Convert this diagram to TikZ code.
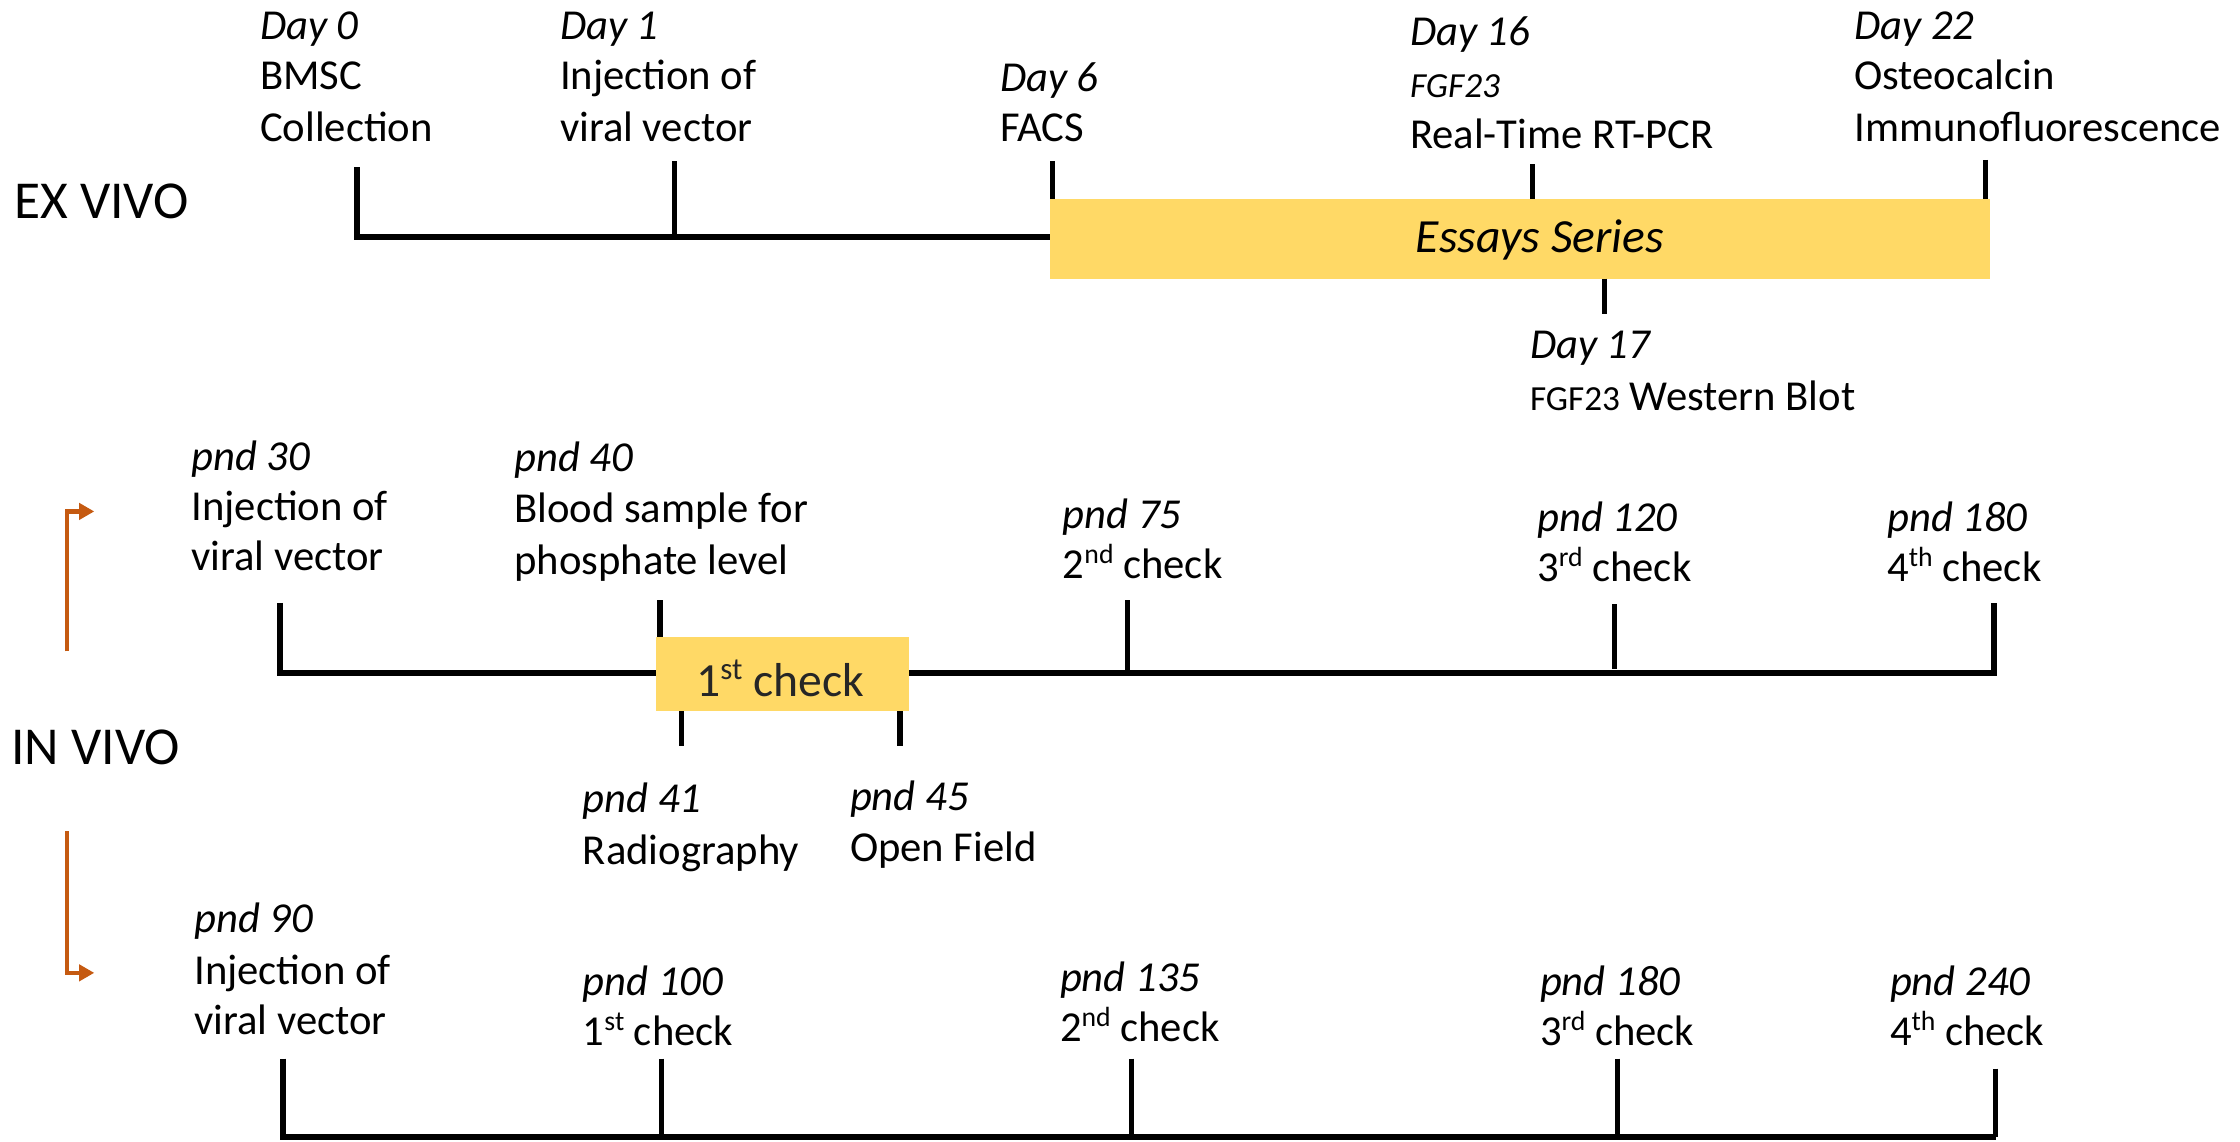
\documentclass[tikz,border=0pt]{standalone}
\usepackage{fontspec}
\setmainfont{Carlito}
\usetikzlibrary{arrows.meta}
\definecolor{gold}{RGB}{255,217,102}
\definecolor{orng}{RGB}{197,90,17}
\definecolor{dgray}{RGB}{38,38,38}
\newcommand\supr[1]{\raisebox{0.36em}{\scalebox{0.65}{#1}}}
\begin{document}
\begin{tikzpicture}[x=0.75pt,y=-0.75pt,
  txt/.style={font=\fontsize{22.4}{27}\selectfont, anchor=base west, inner sep=0pt, outer sep=0pt, yshift=-1.5pt},
  day/.style={txt, font=\fontsize{22.4}{27}\selectfont\itshape},
  smallit/.style={txt, font=\fontsize{18.5}{22}\selectfont\itshape},
  big/.style={txt, font=\fontsize{28}{33}\selectfont},
  boxtxt/.style={font=\fontsize{25}{30}\selectfont, inner sep=0pt, anchor=center},
  goldbox/.style={fill=gold, draw=none, inner sep=0pt},
  tline/.style={line width=3.2pt, line join=miter},
  tick/.style={line width=2.7pt},
  thintick/.style={line width=2.6pt},
  orarrow/.style={draw=orng, line width=2.2pt, line join=miter, -{Triangle[length=8pt,width=8.5pt]}}
]
\useasboundingbox (0,0) rectangle (1568,799);

% ---------------- EX VIVO ----------------
\node[big] (exvivo) at (10,151) {EX VIVO};

\node[goldbox, minimum width=493.5pt, minimum height=42pt] (essays) at (1064,167) {};
\node[boxtxt, font=\fontsize{25}{30}\selectfont\itshape] (essaystxt) at (1078,168) {Essays Series};

\draw[tline] (250,117) -- (250,166) -- (735,166);
\draw[tick] (472,113) -- (472,166);
\draw[tick] (737,113) -- (737,139);
\draw[tick] (1073,115) -- (1073,139);
\draw[tick] (1390,112) -- (1390,139);
\draw[tick] (1123,195) -- (1123,220);

\node[day] (d0) at (182,26) {Day 0};
\node[txt] (d0a) at (182,61) {BMSC};
\node[txt] (d0b) at (182,97) {Collection};

\node[day] (d1) at (392,26) {Day 1};
\node[txt] (d1a) at (392,61) {Injection of};
\node[txt] (d1b) at (392,97) {viral vector};

\node[day] (d6) at (700,62) {Day 6};
\node[txt] (d6a) at (700,97) {FACS};

\node[day] (d16) at (987,30) {Day 16};
\node[smallit] (d16a) at (987,66) {FGF23};
\node[txt] (d16b) at (987,102) {Real-Time RT-PCR};

\node[day] (d22) at (1298,26) {Day 22};
\node[txt] (d22a) at (1298,61) {Osteocalcin};
\node[txt] (d22b) at (1298,97) {Immunofluorescence};

\node[day] (d17) at (1071,249) {Day 17};
\node[txt] (d17a) at (1071,285) {{\fontsize{18.5}{22}\selectfont FGF23} Western Blot};

% ---------------- IN VIVO ----------------
\node[big] (invivo) at (8,533) {IN VIVO};

\coordinate (a1s) at (47,456);
\coordinate (a1e) at (66,358);
\coordinate (a2s) at (47,582);
\coordinate (a2e) at (66,681);
\draw[orarrow] (a1s) |- (a1e);
\draw[orarrow] (a2s) |- (a2e);

% middle timeline
\draw[tline] (196,422) -- (196,471) -- (1396,471) -- (1396,422);
\draw[tick] (462,420) -- (462,446);
\draw[tick] (789,420) -- (789,471);
\draw[tick] (1130,423) -- (1130,468);
\draw[tick] (477,498) -- (477,522);
\draw[tick] (630,498) -- (630,522);

\node[goldbox, minimum width=132.75pt, minimum height=39pt] (check1box) at (547.5,472) {};
\node[boxtxt, text=dgray] (check1txt) at (546,475) {1\supr{st} check};

\node[day] (p30) at (134,327) {pnd 30};
\node[txt] (p30a) at (134,362) {Injection of};
\node[txt] (p30b) at (134,397) {viral vector};

\node[day] (p40) at (360,328) {pnd 40};
\node[txt] (p40a) at (360,364) {Blood sample for};
\node[txt] (p40b) at (360,400) {phosphate level};

\node[day] (p75) at (744,368) {pnd 75};
\node[txt] (p75a) at (744,403) {2\supr{nd} check};

\node[day] (p120) at (1076,370) {pnd 120};
\node[txt] (p120a) at (1076,405) {3\supr{rd} check};

\node[day] (p180) at (1321,370) {pnd 180};
\node[txt] (p180a) at (1321,405) {4\supr{th} check};

\node[day] (p41) at (408,567) {pnd 41};
\node[txt] (p41a) at (408,603) {Radiography};

\node[day] (p45) at (595,565) {pnd 45};
\node[txt] (p45a) at (595,601) {Open Field};

% bottom timeline
\draw[tline] (198,741) -- (198,796) -- (1397,796);
\draw[thintick] (463,741) -- (463,796);
\draw[thintick] (792,741) -- (792,796);
\draw[thintick] (1132,741) -- (1132,796);
\draw[thintick] (1397,748) -- (1397,796);

\node[day] (p90) at (136,651) {pnd 90};
\node[txt] (p90a) at (136,687) {Injection of};
\node[txt] (p90b) at (136,722) {viral vector};

\node[day] (p100) at (408,695) {pnd 100};
\node[txt] (p100a) at (408,730) {1\supr{st} check};

\node[day] (p135) at (742,692) {pnd 135};
\node[txt] (p135a) at (742,727) {2\supr{nd} check};

\node[day] (p180b) at (1078,695) {pnd 180};
\node[txt] (p180ba) at (1078,730) {3\supr{rd} check};

\node[day] (p240) at (1323,695) {pnd 240};
\node[txt] (p240a) at (1323,730) {4\supr{th} check};
\end{tikzpicture}
\end{document}
